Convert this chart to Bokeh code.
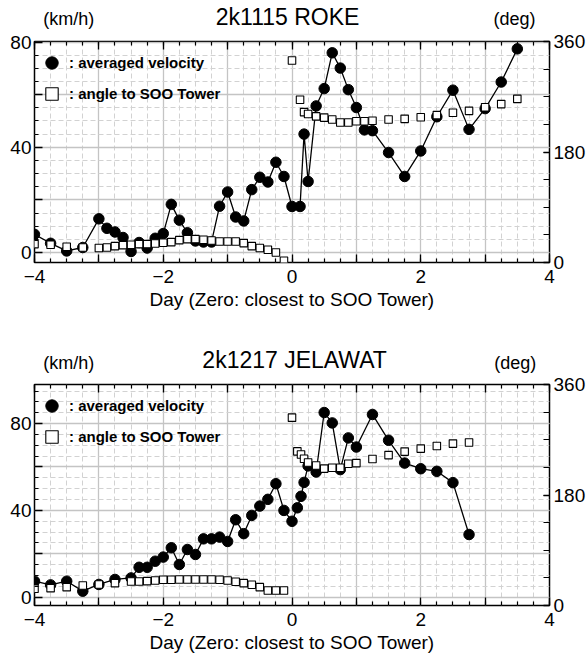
from bokeh.plotting import figure
from bokeh.models import (Range1d, LinearAxis, SingleIntervalTicker, Grid, Label,
                          Legend, LegendItem, CustomLabelingPolicy)
from bokeh.layouts import column
from bokeh.embed import file_html
from bokeh.resources import INLINE

FONT = "Liberation Sans"

# ---------------- data: 2k1115 ROKE ----------------
roke_day = [-4, -3.75, -3.5, -3.25, -3.0, -2.875, -2.75, -2.625, -2.5, -2.375, -2.25, -2.125,
            -2.0, -1.875, -1.75, -1.625, -1.5, -1.375, -1.25, -1.125, -1.0, -0.875, -0.75,
            -0.625, -0.5, -0.375, -0.25, -0.125, 0.0, 0.125, 0.1875, 0.25, 0.375, 0.5, 0.625,
            0.75, 0.875, 1.0, 1.125, 1.25, 1.5, 1.75, 2.0, 2.25, 2.5, 2.75, 3.0, 3.25, 3.5]
roke_vel = [6.9, 3.5, 0.6, 1.9, 12.8, 9.2, 7.8, 5.7, 0.4, 3.8, 1.7, 5.4,
            7.2, 18.3, 12.3, 7.5, 4.4, 4.0, 4.0, 17.6, 23.0, 13.5, 12.0,
            23.9, 28.6, 26.8, 34.3, 28.9, 17.5, 17.5, 45.0, 27.0, 55.7, 62.3, 75.9,
            70.1, 61.9, 55.1, 46.6, 46.3, 38.0, 28.9, 38.6, 51.6, 61.7, 46.8, 54.7, 64.8, 77.4]
roke_ang = [30.0, 28.9, 25.6, 24.5, 23.5, 24.5, 26.7, 28.3, 28.9, 30.0, 30.0, 31.0,
            32.1, 33.2, 36.5, 38.1, 38.1, 37.0, 35.9, 34.3, 34.3, 34.3, 31.6,
            26.7, 23.5, 20.7, 16.3, 2.8, 329, 265, 245, 242, 238, 236, 233,
            228, 228, 230, 230, 231, 233, 234, 236.5, 240, 244, 247, 253, 258, 266.5]

# ---------------- data: 2k1217 JELAWAT ----------------
jel_day = [-4, -3.75, -3.5, -3.25, -3.0, -2.75, -2.5, -2.375, -2.25, -2.125, -2.0, -1.875,
           -1.75, -1.625, -1.5, -1.375, -1.25, -1.125, -1.0, -0.875, -0.75, -0.625, -0.5,
           -0.375, -0.25, -0.125, 0.0, 0.083, 0.14, 0.1875, 0.25, 0.375, 0.5, 0.625, 0.75,
           0.875, 1.0, 1.25, 1.5, 1.75, 2.0, 2.25, 2.5, 2.75]
jel_vel = [7.4, 5.7, 7.4, 2.8, 5.9, 8.2, 8.9, 13.8, 13.8, 16.6, 18.5, 22.8,
           15.1, 22.0, 19.7, 26.9, 26.9, 27.7, 25.7, 35.7, 29.3, 37.7, 42.0,
           45.1, 52.3, 40.0, 35.0, 41.2, 46.5, 52.9, 60.5, 57.7, 85.1, 80.3, 58.8,
           73.4, 69.2, 84.2, 72.3, 61.8, 59.2, 58.0, 52.8, 28.9]
jel_ang = [27.2, 28.3, 29.9, 32.6, 34.3, 36.4, 39.1, 39.1, 39.7, 40.8, 41.9, 41.9,
           42.4, 42.4, 42.4, 42.4, 42.4, 41.9, 40.8, 38.6, 36.4, 33.7, 29.9,
           24.5, 24.5, 24.5, 306, 251, 246, 239, 233, 228, 223, 224.5, 224.5,
           231, 232, 238.6, 245, 250.7, 255.6, 259.8, 263.7, 265.4]

x_label = "Day (Zero: closest to SOO Tower)"
vel_unit = "(km/h)"
ang_unit = "(deg)"
legend_labels = [": averaged velocity", ": angle to SOO Tower"]

W = 588

EVERY_OTHER = CustomLabelingPolicy(code="""
    const drop = [];
    for (const i of indices) { if (i % 2 != 0) drop.push(i); }
    for (const i of drop) indices.unset(i);
    return indices;
""")
NONE_SHOWN = CustomLabelingPolicy(code="""
    const drop = [];
    for (const i of indices) drop.push(i);
    for (const i of drop) indices.unset(i);
    return indices;
""")


def style_axis(ax, size="19px"):
    ax.axis_line_color = None
    ax.major_tick_in = 8
    ax.major_tick_out = 0
    ax.minor_tick_in = 4
    ax.minor_tick_out = 0
    ax.major_tick_line_color = "black"
    ax.minor_tick_line_color = "black"
    ax.major_tick_line_width = 1.3
    ax.minor_tick_line_width = 1.2
    ax.major_label_text_font = FONT
    ax.major_label_text_font_size = size
    ax.major_label_text_color = "black"


def make_header(height, title, title_x, title_y, unit_y, deg_x):
    h = figure(width=W, height=height, x_range=Range1d(0, W), y_range=Range1d(0, height),
               output_backend="svg", toolbar_location=None,
               x_axis_location=None, y_axis_location=None, min_border=0)
    h.outline_line_color = None
    h.grid.visible = False
    h.add_layout(Label(x=title_x, y=title_y, text=title, text_font=FONT,
                       text_font_size="23px", text_align="center",
                       text_baseline="middle", text_color="black"))
    h.add_layout(Label(x=10, y=unit_y, text=vel_unit, text_font=FONT,
                       text_font_size="18px", text_align="left",
                       text_baseline="middle", text_color="black"))
    h.add_layout(Label(x=deg_x, y=unit_y, text=ang_unit, text_font=FONT,
                       text_font_size="18px", text_align="left",
                       text_baseline="middle", text_color="black"))
    return h


def make_chart(days, vel, ang, vrange, height, top, bottom):
    p = figure(width=W, height=height, x_range=Range1d(-4, 4),
               y_range=Range1d(*vrange), output_backend="svg", toolbar_location=None,
               x_axis_location=None, y_axis_location=None,
               min_border_left=34, min_border_right=39,
               min_border_top=top, min_border_bottom=bottom)
    p.extra_y_ranges = {"deg": Range1d(0, 360)}
    p.outline_line_color = "black"
    p.outline_line_width = 1.5
    p.background_fill_color = "white"

    # grids
    xg = Grid(dimension=0, ticker=SingleIntervalTicker(interval=1, num_minor_ticks=4),
              grid_line_color="#c4c4c4", grid_line_width=1.3,
              minor_grid_line_color="#d2d2d2", minor_grid_line_width=1,
              minor_grid_line_dash="5 3")
    yg = Grid(dimension=1, ticker=SingleIntervalTicker(interval=20, num_minor_ticks=4),
              grid_line_color="#c4c4c4", grid_line_width=1.3,
              minor_grid_line_color="#d2d2d2", minor_grid_line_width=1,
              minor_grid_line_dash="5 3")
    p.add_layout(xg)
    p.add_layout(yg)

    # axes
    xb = LinearAxis(ticker=SingleIntervalTicker(interval=1, num_minor_ticks=4),
                    major_label_policy=EVERY_OTHER, axis_label=x_label)
    style_axis(xb)
    xb.major_label_standoff = 7
    xb.axis_label_standoff = 3
    xb.axis_label_text_font = FONT
    xb.axis_label_text_font_size = "19px"
    xb.axis_label_text_font_style = "normal"
    xb.axis_label_text_color = "black"
    p.add_layout(xb, "below")

    xt = LinearAxis(ticker=SingleIntervalTicker(interval=1, num_minor_ticks=4),
                    major_label_policy=NONE_SHOWN)
    style_axis(xt)
    xt.major_label_text_font_size = "1px"
    xt.major_label_standoff = 0
    p.add_layout(xt, "above")

    yl = LinearAxis(ticker=SingleIntervalTicker(interval=20, num_minor_ticks=4),
                    major_label_policy=EVERY_OTHER)
    style_axis(yl)
    yl.major_label_standoff = 3
    p.add_layout(yl, "left")

    yr = LinearAxis(y_range_name="deg",
                    ticker=SingleIntervalTicker(interval=180, num_minor_ticks=4))
    style_axis(yr)
    yr.major_tick_in = 6
    yr.minor_tick_in = 6
    yr.major_label_standoff = 4
    p.add_layout(yr, "right")

    # data
    p.line(days, vel, line_color="black", line_width=1.3)
    circ = p.scatter(days, vel, marker="circle", size=10.5, fill_color="black",
                     line_color="black", line_width=1)
    sq = p.scatter(days, ang, y_range_name="deg", marker="square", size=7.5,
                   fill_color="white", line_color="black", line_width=1.1)

    legend = Legend(items=[LegendItem(label=legend_labels[0], renderers=[circ]),
                           LegendItem(label=legend_labels[1], renderers=[sq])],
                    location=(2, 153), glyph_width=31, glyph_height=31,
                    label_text_font=FONT, label_text_font_size="15px",
                    label_text_font_style="bold", label_text_color="black",
                    label_standoff=2, padding=0, margin=0, spacing=0,
                    border_line_color=None, background_fill_alpha=0)
    p.add_layout(legend)
    return p


# top block: header 0..30, chart 30..330 (frame 41..262)
h1 = make_header(30, "2k1115 ROKE", 289, 13.7, 12, 524)
p1 = make_chart(roke_day, roke_vel, roke_ang, (-3.8, 80.2), 300, 11, 68)
# bottom block: header 330..373, chart 373..664 (frame 384..605)
h2 = make_header(43, "2k1217 JELAWAT", 297, 13.7, 11, 525)
p2 = make_chart(jel_day, jel_vel, jel_ang, (-3.8, 98), 291, 11, 59)

layout = column(h1, p1, h2, p2, spacing=0)
open("out.html", "w").write(file_html(layout, INLINE))
